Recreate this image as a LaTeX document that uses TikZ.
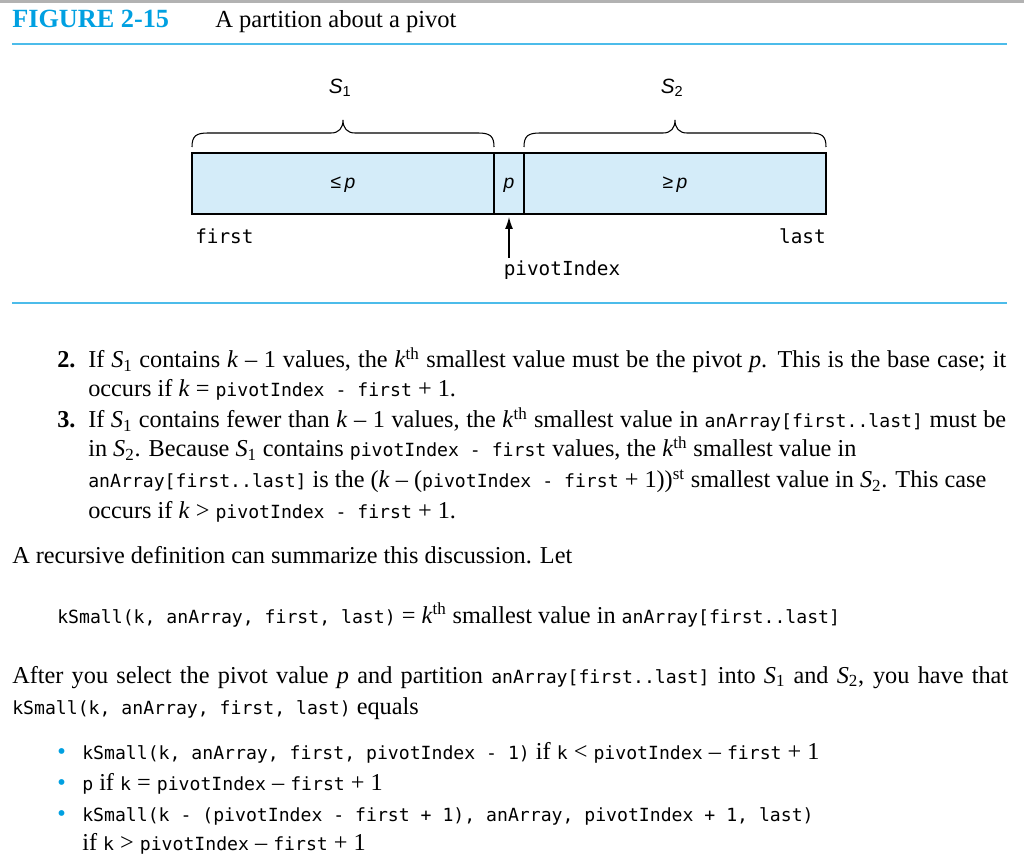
\documentclass[tikz,border=0pt]{standalone}
\usepackage{fontspec}
\usetikzlibrary{arrows.meta}
\setmainfont{Liberation Serif}
\newfontfamily\monof{DejaVu Sans Mono}
\newfontfamily\figsans{Liberation Sans}
\definecolor{figblue}{RGB}{0,160,225}
\definecolor{boxfill}{RGB}{212,236,249}
\newcommand\mt[1]{\mbox{\monof\fontsize{13.6}{16}\selectfont #1}}
\newcommand\fm[1]{{\monof\fontsize{14.5}{17}\selectfont #1}}
\newcommand\Sa{\textit{S}\textsubscript{1}}
\newcommand\Sb{\textit{S}\textsubscript{2}}
\newcommand\kth{\textit{k}\textsuperscript{th}}
\newcommand\K{\textit{k}}
\newcommand\jl[2]{\makebox[#1][s]{#2}}
\begin{document}
\begin{tikzpicture}[x=0.75pt,y=-0.75pt,
  txt/.style={anchor=base west,inner sep=0pt,font=\fontsize{18.2}{22}\selectfont},
  cell/.style={draw,line width=1.6pt,fill=boxfill},
  brc/.style={line width=0.8pt},
  bul/.style={anchor=base west,inner sep=0pt,text=figblue,font=\fontsize{18.2}{22}\selectfont}]
\useasboundingbox (0,0) rectangle (1024,862);
\draw[gray!60,line width=2pt] (0,1.5) -- (1024,1.5);
\node[txt,text=figblue,font=\fontsize{19.7}{22}\selectfont\bfseries] (fig) at (12,28) {FIGURE 2-15};
\node[txt,font=\fontsize{18.4}{22}\selectfont] (ttl) at (215,28) {A partition about a pivot};
\draw[figblue!70,line width=0.8pt] (12,44) -- (1007,44);
\draw[figblue!70,line width=0.8pt] (12,303) -- (1007,303);
% boxes
\draw[cell] (192,153) rectangle (494,214);
\draw[cell] (494,153) rectangle (524,214);
\draw[cell] (524,153) rectangle (826,214);
\node[font=\figsans\fontsize{14.5}{16}\selectfont] (le) at (343,185) {≤\,\textit{p}};
\node[font=\figsans\fontsize{14.5}{16}\selectfont] (pp) at (509,185) {\textit{p}};
\node[font=\figsans\fontsize{14.5}{16}\selectfont] (ge) at (675,185) {≥\,\textit{p}};
\node[font=\figsans\fontsize{15.5}{17}\selectfont] (s1) at (340,88) {\textit{S}\textsubscript{1}};
\node[font=\figsans\fontsize{15.5}{17}\selectfont] (s2) at (672,88) {\textit{S}\textsubscript{2}};
\foreach \a/\b in {192/494,524/826}{
  \pgfmathsetmacro\m{(\a+\b)/2}
  \draw[brc] (\a,147) .. controls (\a,136) and (\a+4,133) .. (\a+16,133) -- (\m-12,133)
    .. controls (\m-4,133) and (\m,128) .. (\m,120)
    .. controls (\m,128) and (\m+4,133) .. (\m+12,133) -- (\b-16,133)
    .. controls (\b-4,133) and (\b,136) .. (\b,147);
}
\node[txt] (first) at (195,244) {\fm{first}};
\node[anchor=base east,inner sep=0pt] (last) at (826,244) {\fm{last}};
\node[anchor=base,inner sep=0pt] (piv) at (562,276) {\fm{pivotIndex}};
\coordinate (arrtop) at (509,217);
\draw[-{Latex[length=9pt,width=6pt]},line width=0.9pt] (509,258) -- (arrtop);
% numbered items
\node[txt,font=\fontsize{18.2}{22}\selectfont\bfseries] (n2) at (57,368) {2.};
\node[txt] (l1) at (88,368) {\jl{688.5pt}{If \Sa{} contains \K{} – 1 values, the \kth{} smallest value must be the pivot \textit{p}. This is the base case; it}};
\node[txt] (l2) at (88,397) {occurs if \K{} = \mt{pivotIndex - first} + 1.};
\node[txt,font=\fontsize{18.2}{22}\selectfont\bfseries] (n3) at (57,428) {3.};
\node[txt] (l3) at (88,428) {\jl{688.5pt}{If \Sa{} contains fewer than \K{} – 1 values, the \kth{} smallest value in \mt{anArray[first..last]} must be}};
\node[txt] (l4) at (88,457) {in \Sb. Because \Sa{} contains \mt{pivotIndex - first} values, the \kth{} smallest value in};
\node[txt] (l5) at (88,488) {\mt{anArray[first..last]} is the (\K{} – (\mt{pivotIndex - first} + 1))\textsuperscript{st} smallest value in \Sb. This case};
\node[txt] (l6) at (88,518) {occurs if \K{} > \mt{pivotIndex - first} + 1.};
\node[txt] (l7) at (12,563) {A recursive definition can summarize this discussion. Let};
\node[txt] (l8) at (57,623) {\mt{kSmall(k, anArray, first, last)} = \kth{} smallest value in \mt{anArray[first..last]}};
\node[txt] (l9) at (12,683) {\jl{747pt}{After you select the pivot value \textit{p} and partition \mt{anArray[first..last]} into \Sa{} and \Sb, you have that}};
\node[txt] (l10) at (12,714) {\mt{kSmall(k, anArray, first, last)} equals};
\node[bul] (b1) at (57,759) {•};
\node[txt] (t1) at (82,759) {\mt{kSmall(k, anArray, first, pivotIndex - 1)} if \mt{k} < \mt{pivotIndex} – \mt{first} + 1};
\node[bul] (b2) at (57,790) {•};
\node[txt] (t2) at (82,790) {\mt{p} if \mt{k} = \mt{pivotIndex} – \mt{first} + 1};
\node[bul] (b3) at (57,821) {•};
\node[txt] (t3) at (82,821) {\mt{kSmall(k - (pivotIndex - first + 1), anArray, pivotIndex + 1, last)}};
\node[txt] (t4) at (82,850) {if \mt{k} > \mt{pivotIndex} – \mt{first} + 1};
\end{tikzpicture}
\end{document}
